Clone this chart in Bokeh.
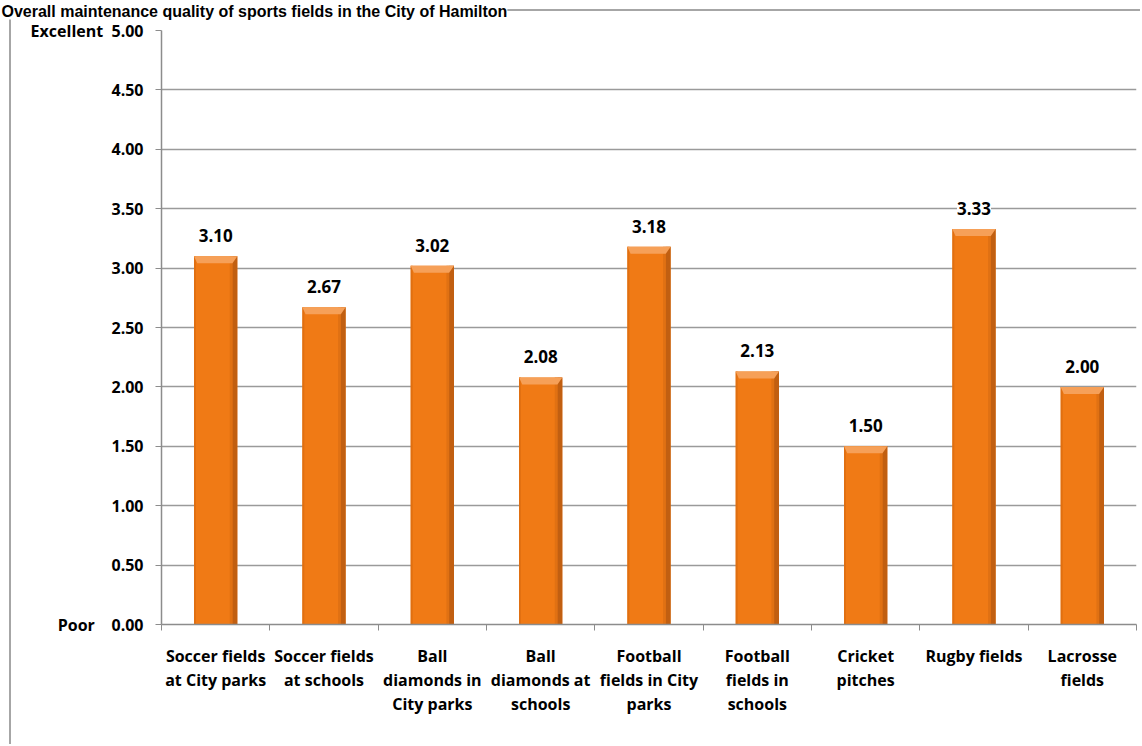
from bokeh.plotting import figure
from bokeh.models import (Range1d, FixedTicker, NumeralTickFormatter, ColumnDataSource,
                          LabelSet, Title)
from bokeh.core.properties import value
from bokeh.embed import file_html
from bokeh.resources import INLINE

# ---------------- data ----------------
title_text = "Overall maintenance quality of sports fields in the City of Hamilton"
categories = [
    "Soccer fields\nat City parks",
    "Soccer fields\nat schools",
    "Ball\ndiamonds in\nCity parks",
    "Ball\ndiamonds at\nschools",
    "Football\nfields in City\nparks",
    "Football\nfields in\nschools",
    "Cricket\npitches",
    "Rugby fields",
    "Lacrosse\nfields",
]
values = [3.10, 2.67, 3.02, 2.08, 3.18, 2.13, 1.50, 3.33, 2.00]
y_ticks = [0.0, 0.5, 1.0, 1.5, 2.0, 2.5, 3.0, 3.5, 4.0, 4.5, 5.0]
y_top_word = "Excellent"
y_bottom_word = "Poor"

# ---------------- layout ----------------
W, H = 1140, 744
ML, MR, MT, MB = 161, 4, 30, 120
n = len(categories)
y_max = y_ticks[-1]
px_y = (H - MT - MB) / y_max      # pixels per y unit

FONT = "Open Sans"
GRAY = "#8C8C8C"

p = figure(width=W, height=H, x_range=Range1d(0, n), y_range=Range1d(0, y_max),
           output_backend="svg", toolbar_location=None, title=None,
           min_border_left=ML, min_border_right=MR, min_border_top=MT,
           min_border_bottom=MB)
p.outline_line_color = None
p.background_fill_color = "white"
p.border_fill_color = None
# outer chart border (left + top lines), drawn behind the transparent canvas border
p.styles = {
    "background": "linear-gradient(#A6A6A6, #A6A6A6) 9px 9px / 2px 100% no-repeat, "
                  "linear-gradient(#A6A6A6, #A6A6A6) 9px 9px / 100% 2px no-repeat, #ffffff"
}

# spacer (nearest the plot) + title (top-left)
p.add_layout(Title(text="\u00a0", standoff=0, text_font_size="8px",
                   text_color="#ffffff"), "above")
p.add_layout(Title(text=title_text, align="left", offset=-ML + 1, standoff=0,
                   text_font="Liberation Sans", text_font_style="bold",
                   text_font_size="16px", text_color="#000000",
                   background_fill_color="white"), "above")

# ---------------- bars ----------------
centers = [i + 0.5 for i in range(n)]
bw = 0.40
src = ColumnDataSource(dict(
    x=centers, top=values,
    label=[f"{v:.2f}" for v in values],
))
p.vbar(x="x", top="top", bottom=0, width=bw, source=src,
       fill_color="#F07A15", line_color=None)
# darker right edge
p.quad(left=[c + bw / 2 - 0.045 for c in centers], right=[c + bw / 2 for c in centers],
       top=values, bottom=0, fill_color="#B85B10", fill_alpha=0.85, line_color=None)
p.quad(left=[c + bw / 2 - 0.07 for c in centers], right=[c + bw / 2 - 0.045 for c in centers],
       top=values, bottom=0, fill_color="#D56A12", fill_alpha=0.6, line_color=None)
# slightly darker left edge
p.quad(left=[c - bw / 2 for c in centers], right=[c - bw / 2 + 0.018 for c in centers],
       top=values, bottom=0, fill_color="#DC6D10", fill_alpha=0.8, line_color=None)
# top bevel highlight
bev = 7 / px_y
p.patches(
    xs=[[c - bw / 2, c + bw / 2, c + bw / 2 - 0.045, c - bw / 2 + 0.03] for c in centers],
    ys=[[v, v, v - bev, v - bev] for v in values],
    fill_color="#F6A058", line_color=None)

# value labels
labels = LabelSet(x="x", y="top", text="label", source=src,
                  text_align="center", text_baseline="alphabetic", y_offset=14,
                  text_font=value(FONT), text_font_style="bold",
                  text_font_size="17px", text_color="#000000",
                  background_fill_color="white")
p.add_layout(labels)

# ---------------- axes ----------------
p.xgrid.visible = False
p.ygrid.ticker = FixedTicker(ticks=y_ticks)
p.ygrid.grid_line_color = "#9A9A9A"
p.ygrid.grid_line_width = 1.5

yax = p.yaxis[0]
yax.ticker = FixedTicker(ticks=y_ticks)
yax.formatter = NumeralTickFormatter(format="0.00")
yax.major_label_overrides = {
    y_ticks[-1]: y_top_word + "\u00a0\u00a0" + f"{y_ticks[-1]:.2f}",
    y_ticks[0]: y_bottom_word + "\u00a0\u00a0\u00a0\u00a0" + f"{y_ticks[0]:.2f}",
}
yax.axis_line_color = GRAY
yax.axis_line_width = 1.5
yax.major_tick_line_color = GRAY
yax.major_tick_out = 6
yax.major_tick_in = 0
yax.minor_tick_line_color = None
yax.major_label_standoff = 12
yax.major_label_text_font = FONT
yax.major_label_text_font_style = "bold"
yax.major_label_text_font_size = "16px"
yax.major_label_text_color = "#000000"

xax = p.xaxis[0]
xax.ticker = FixedTicker(ticks=centers, minor_ticks=list(range(n + 1)))
xax.major_label_overrides = {c: lab for c, lab in zip(centers, categories)}
xax.axis_line_color = GRAY
xax.axis_line_width = 1.5
xax.major_tick_line_color = None
xax.major_tick_out = 0
xax.major_tick_in = 0
xax.minor_tick_line_color = GRAY
xax.minor_tick_out = 6
xax.minor_tick_in = 0
xax.major_label_standoff = 14
xax.major_label_text_font = FONT
xax.major_label_text_font_style = "bold"
xax.major_label_text_font_size = "16px"
xax.major_label_text_color = "#000000"
xax.major_label_text_line_height = 1.1

open("out.html", "w").write(file_html(p, INLINE))
